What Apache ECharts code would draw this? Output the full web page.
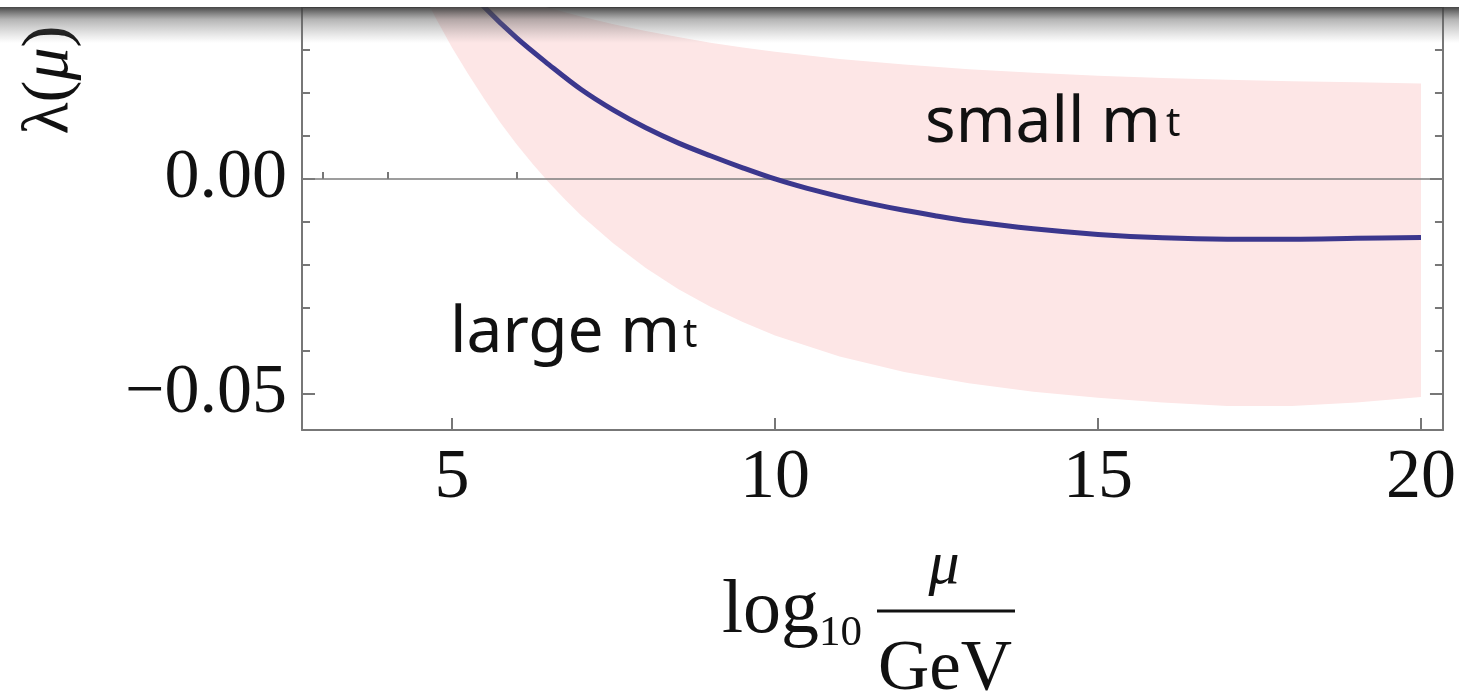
<!DOCTYPE html>
<html><head><meta charset="utf-8">
<script src="https://cdn.jsdelivr.net/npm/echarts@6/dist/echarts.min.js"></script>
<style>html,body{margin:0;padding:0;background:#fff}#c{width:1459px;height:695px}</style>
</head><body><div id="c"></div>
<script>
// ---- data ----
const curveX = [5.2, 5.5, 6, 6.5, 7, 7.5, 8, 8.5, 9, 9.5, 10, 10.5, 11, 11.5, 12, 12.5, 13, 14, 15, 16, 17, 18, 19, 20];
const curveY = [0.0452, 0.0400, 0.0328, 0.0266, 0.0208, 0.0160, 0.0119, 0.0084, 0.0054, 0.0026, 0.0000, -0.0022, -0.0041, -0.0058, -0.0073, -0.0086, -0.0098, -0.0116, -0.0129, -0.0137, -0.0140, -0.0140, -0.0138, -0.0136];
const bandX = [4.5, 4.75, 5, 5.25, 5.5, 5.75, 6, 6.25, 6.5, 6.75, 7, 7.5, 8, 8.5, 9, 9.5, 10, 11, 12, 13, 14, 15, 16, 17, 18, 19, 20];
const bandLower = [0.0448, 0.0374, 0.0306, 0.0244, 0.0186, 0.0131, 0.0081, 0.0035, -0.0008, -0.0048, -0.0085, -0.0150, -0.0207, -0.0256, -0.0297, -0.0333, -0.0364, -0.0413, -0.0449, -0.0475, -0.0495, -0.0509, -0.0520, -0.0528, -0.0528, -0.0520, -0.0507];
const bandUpper = [0.0510, 0.0493, 0.0476, 0.0461, 0.0446, 0.0432, 0.0418, 0.0408, 0.0398, 0.0388, 0.0378, 0.0360, 0.0344, 0.0330, 0.0317, 0.0306, 0.0296, 0.0279, 0.0266, 0.0255, 0.0247, 0.0240, 0.0235, 0.0231, 0.0227, 0.0225, 0.0222];
const xMajorTicks = [5, 10, 15, 20];
const xMinorTicks = [3, 4, 6, 7, 8, 9, 11, 12, 13, 14, 16, 17, 18, 19];
const yMajorTicks = [0, -0.05];
const yMinorTicks = [-0.04, -0.03, -0.02, -0.01, 0.01, 0.02, 0.03];
const xRange = [2.678, 20.34];
const yRange = [-0.0584, 0.04];
const zeroLevel = 0;

// ---- chart ----
const chart = echarts.init(document.getElementById('c'), null, {renderer: 'canvas'});
const frame = '#777777';
const serif = 'Liberation Serif';

function xAxisDef(opts) {
  return Object.assign({
    type: 'value', min: xRange[0], max: xRange[1], gridIndex: 0,
    splitLine: {show: false}, axisLine: {show: false},
    axisTick: {show: false}, axisLabel: {show: false}
  }, opts);
}
function yAxisDef(opts) {
  return Object.assign({
    type: 'value', min: yRange[0], max: yRange[1], gridIndex: 0,
    splitLine: {show: false}, axisLine: {show: false},
    axisTick: {show: false}, axisLabel: {show: false}
  }, opts);
}
const fmtY = v => (Math.abs(v) < 1e-9 ? '0.00' : (v < 0 ? '\u2212' : '') + Math.abs(v).toFixed(2));

const bandData = bandX.map((x, i) => [x, bandLower[i], bandUpper[i]]);

const option = {
  backgroundColor: '#ffffff',
  animation: false,
  grid: {left: 302, right: 16, top: 7, bottom: 265, containLabel: false},
  xAxis: [
    xAxisDef({
      position: 'bottom',
      axisLine: {show: true, onZero: false, lineStyle: {color: frame, width: 2}},
      axisTick: {show: true, inside: true, length: 12, customValues: xMajorTicks, lineStyle: {color: frame, width: 2}},
      axisLabel: {show: true, customValues: xMajorTicks, margin: 14, fontFamily: serif, fontSize: 70, color: '#111'}
    }),
    xAxisDef({
      position: 'bottom',
      axisTick: {show: true, inside: true, length: 7, customValues: xMinorTicks, lineStyle: {color: frame, width: 2}}
    }),
    xAxisDef({
      position: 'top',
      axisLine: {show: true, onZero: false, lineStyle: {color: frame, width: 2}}
    })
  ],
  yAxis: [
    yAxisDef({
      position: 'left',
      axisLine: {show: true, onZero: false, lineStyle: {color: frame, width: 2}},
      axisTick: {show: true, inside: true, length: 13, customValues: yMajorTicks, lineStyle: {color: frame, width: 2}},
      axisLabel: {show: true, customValues: yMajorTicks, margin: 15, fontFamily: serif, fontSize: 70, color: '#111', formatter: fmtY}
    }),
    yAxisDef({
      position: 'left',
      axisTick: {show: true, inside: true, length: 8, customValues: yMinorTicks, lineStyle: {color: frame, width: 2}}
    }),
    yAxisDef({
      position: 'right',
      axisLine: {show: true, onZero: false, lineStyle: {color: frame, width: 2}},
      axisTick: {show: true, inside: true, length: 13, customValues: yMajorTicks, lineStyle: {color: frame, width: 2}}
    }),
    yAxisDef({
      position: 'right',
      axisTick: {show: true, inside: true, length: 8, customValues: yMinorTicks, lineStyle: {color: frame, width: 2}}
    })
  ],
  series: [
    {
      name: 'band', type: 'custom', xAxisIndex: 0, yAxisIndex: 0, z: 1, clip: true,
      data: bandData,
      encode: {x: 0, y: [1, 2]},
      renderItem: function (params, api) {
        if (params.dataIndex !== 0) return null;
        const up = [], lo = [];
        for (let i = 0; i < bandData.length; i++) {
          up.push(api.coord([bandData[i][0], bandData[i][2]]));
          lo.push(api.coord([bandData[i][0], bandData[i][1]]));
        }
        const pts = up.concat(lo.reverse());
        return {type: 'polygon', shape: {points: pts}, style: {fill: '#fde6e6', stroke: null}};
      }
    },
    {
      name: 'zero', type: 'line', xAxisIndex: 0, yAxisIndex: 0, symbol: 'none', z: 2,
      lineStyle: {color: '#7d7d7d', width: 1.6},
      data: [[xRange[0], zeroLevel], [xRange[1], zeroLevel]]
    },
    {
      name: 'lambda', type: 'line', xAxisIndex: 0, yAxisIndex: 0, symbol: 'none', z: 3,
      smooth: 0.35,
      lineStyle: {color: '#3b378d', width: 5},
      data: curveX.map((x, i) => [x, curveY[i]])
    }
  ],
  graphic: [
    // annotations
    {type: 'text', left: 925, top: 112 - 0.32 * 64, z: 50, style: {text: 'small m', font: '64px "Noto Sans"', fill: '#111', verticalAlign: 'middle'}},
    {type: 'text', left: 1166, top: 117 - 0.32 * 40, z: 50, style: {text: 't', font: '40px "Noto Sans"', fill: '#111', verticalAlign: 'middle'}},
    {type: 'text', left: 450, top: 322 - 0.32 * 64, z: 50, style: {text: 'large m', font: '64px "Noto Sans"', fill: '#111', verticalAlign: 'middle'}},
    {type: 'text', left: 683, top: 328 - 0.32 * 40, z: 50, style: {text: 't', font: '40px "Noto Sans"', fill: '#111', verticalAlign: 'middle'}},
    // y axis title, rotated
    {type: 'text', x: 50, y: 80, rotation: Math.PI / 2, z: 50,
      style: {text: '{a|\u03bb(}{b|\u03bc}{a|)}', align: 'center', verticalAlign: 'middle',
        rich: {a: {fontFamily: serif, fontSize: 66, fill: '#111'}, b: {fontFamily: serif, fontSize: 66, fontStyle: 'italic', fill: '#111'}}}},
    // x axis title: log10 mu / GeV
    {type: 'text', x: 722, y: 650, z: 50, style: {text: 'log', font: '76px "Liberation Serif"', fill: '#111', verticalAlign: 'bottom'}},
    {type: 'text', x: 819, y: 655, z: 50, style: {text: '10', font: '43px "Liberation Serif"', fill: '#111', verticalAlign: 'bottom'}},
    {type: 'text', x: 944, y: 598, z: 50, style: {text: '\u03bc', font: 'italic 62px "Liberation Serif"', fill: '#111', align: 'center', verticalAlign: 'bottom'}},
    {type: 'rect', shape: {x: 877, y: 609.5, width: 138, height: 3}, z: 50, style: {fill: '#111'}},
    {type: 'text', x: 945, y: 706, z: 50, style: {text: 'GeV', font: '71px "Liberation Serif"', fill: '#111', align: 'center', verticalAlign: 'bottom'}},
    // top shadow of the cropped picture
    {type: 'rect', shape: {x: 0, y: 0, width: 1459, height: 7}, z: 90, style: {fill: '#ffffff'}},
    {type: 'rect', shape: {x: 0, y: 7, width: 1459, height: 36}, z: 90,
      style: {fill: {type: 'linear', x: 0, y: 0, x2: 0, y2: 1, colorStops: [
        {offset: 0, color: 'rgba(55,55,55,0.92)'},
        {offset: 0.35, color: 'rgba(90,90,90,0.45)'},
        {offset: 1, color: 'rgba(120,120,120,0)'}]}}}
  ]
};
chart.setOption(option);
</script>
</body></html>
